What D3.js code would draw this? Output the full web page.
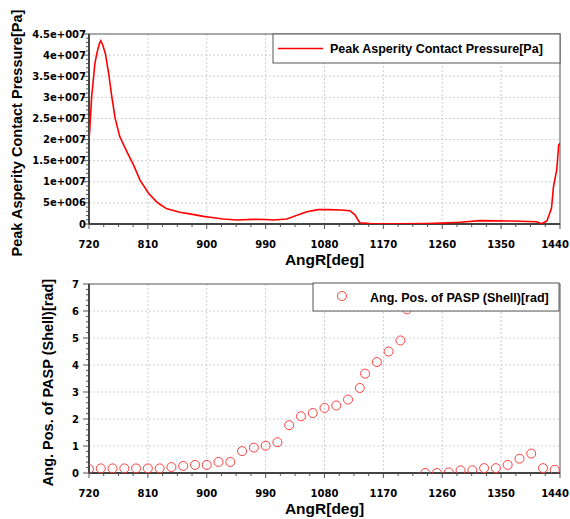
<!DOCTYPE html>
<html>
<head>
<meta charset="utf-8">
<script src="https://cdn.jsdelivr.net/npm/d3@7"></script>
<style>
  body { margin: 0; background: #fff; }
  text { font-family: "DejaVu Sans", Verdana, sans-serif; font-weight: bold; fill: #000; }
  .title { font-family: "Liberation Sans", Arial, sans-serif; }
</style>
</head>
<body>
<script>
// top panel: peak asperity contact pressure vs crank angle
var angTop = [720, 721, 724, 729, 732, 736, 738, 741, 745, 750, 755, 760, 767, 778, 788, 798, 811, 823,
  830, 839, 849, 859, 874, 895, 905, 925, 946, 971, 990, 1002, 1022, 1030, 1038, 1053, 1070, 1086, 1105,
  1119, 1127, 1131, 1134, 1150, 1169, 1200, 1236, 1260, 1287, 1318, 1366, 1404, 1412, 1420, 1427, 1430,
  1435, 1438, 1440];
var pressTop = [20, 22, 30, 38, 40.4, 42.8, 43.4, 42.4, 40.4, 35.7, 30, 25, 20.7, 17.1, 14, 10.4, 7.3, 5.3,
  4.5, 3.6, 3.2, 2.8, 2.4, 1.8, 1.6, 1.2, 0.95, 1.1, 1.05, 0.95, 1.2, 1.6, 2.1, 2.9, 3.4, 3.4, 3.3,
  3.15, 2.1, 1.0, 0.3, 0.1, 0.07, 0.07, 0.1, 0.2, 0.4, 0.8, 0.7, 0.55, 0.05, 0.7, 3.7, 8.8,
  12.8, 18.7, 19.1].map(function(v) { return v * 1e6; });

// bottom panel: angular position of PASP (shell)
var angBot = [720, 738, 756, 774, 792, 810, 828, 846, 864, 882, 900, 918, 936, 954, 972, 990, 1008, 1026,
  1044, 1062, 1071, 1080, 1098, 1116, 1134, 1142, 1160, 1178, 1196, 1206, 1234, 1252, 1270, 1288, 1306,
  1324, 1342, 1360, 1378, 1396, 1414, 1432];
var posBot = [0.15, 0.17, 0.17, 0.17, 0.17, 0.17, 0.17, 0.22, 0.26, 0.3, 0.3, 0.41, 0.41, 0.81, 0.94, 1.01,
  1.14, 1.77, 2.1, 2.22, 6.55, 2.41, 2.5, 2.72, 3.15, 3.68, 4.11, 4.5, 4.91, 6.06, 0.0, 0.0, 0.02, 0.1,
  0.1, 0.18, 0.18, 0.3, 0.53, 0.72, 0.18, 0.12];

var xTicks = [720, 810, 900, 990, 1080, 1170, 1260, 1350, 1440];
var yTicksTop = [0, 5e6, 1e7, 1.5e7, 2e7, 2.5e7, 3e7, 3.5e7, 4e7, 4.5e7];
var yTicksBot = [0, 1, 2, 3, 4, 5, 6, 7];

var svg = d3.select("body").append("svg").attr("width", 570).attr("height", 519);

var left = 89, right = 560;
var axisCol = "#555";

var x = d3.scaleLinear().domain([720, 1440]).range([left, right]);

function expFmt(v) {
  if (v === 0) return "0";
  var e = Math.floor(Math.log10(v) + 1e-9);
  var m = +(v / Math.pow(10, e)).toFixed(2);
  return m + "e+" + String(e).padStart(3, "0");
}

// draw one panel frame with grid, ticks and titles
function panel(top, bottom, y, yTicks, yMinorStep, fmt, labelEnd, yTitle, yTitleX, clipId) {
  var g = svg.append("g");

  g.append("clipPath").attr("id", clipId).append("rect")
    .attr("x", left).attr("y", top).attr("width", right - left).attr("height", bottom - top);

  // grid
  xTicks.slice(1, -1).forEach(function(t) {
    g.append("line").attr("x1", x(t)).attr("x2", x(t)).attr("y1", top).attr("y2", bottom)
      .attr("stroke", "#cfcfcf").attr("stroke-dasharray", "2,2");
  });
  yTicks.slice(1, -1).forEach(function(t) {
    g.append("line").attr("x1", left).attr("x2", right).attr("y1", y(t)).attr("y2", y(t))
      .attr("stroke", "#cfcfcf").attr("stroke-dasharray", "2,2");
  });

  // x minor + major ticks
  for (var t = 720; t <= 1440; t += 22.5) {
    var major = xTicks.indexOf(t) >= 0;
    g.append("line").attr("x1", x(t)).attr("x2", x(t)).attr("y1", bottom).attr("y2", bottom + (major ? 5 : 3))
      .attr("stroke", axisCol);
  }
  xTicks.forEach(function(t, i) {
    var last = i === xTicks.length - 1;
    g.append("text").attr("x", last ? 569 : x(t)).attr("y", bottom + 24)
      .attr("text-anchor", last ? "end" : "middle")
      .style("font-size", "10px").text(t);
  });

  // y minor + major ticks
  var yMax = yTicks[yTicks.length - 1];
  for (var k = 0; k * yMinorStep <= yMax + 1e-9; k++) {
    var v = k * yMinorStep;
    var isMajor = yTicks.some(function(tt) { return Math.abs(tt - v) < yMinorStep / 10; });
    g.append("line").attr("x1", left - (isMajor ? 6 : 3)).attr("x2", left).attr("y1", y(v)).attr("y2", y(v))
      .attr("stroke", axisCol);
  }
  yTicks.forEach(function(t) {
    g.append("text").attr("x", labelEnd).attr("y", y(t)).attr("dy", "0.36em").attr("text-anchor", "end")
      .style("font-size", "10px").text(fmt(t));
  });

  // frame
  g.append("rect").attr("x", left).attr("y", top).attr("width", right - left).attr("height", bottom - top)
    .attr("fill", "none").attr("stroke", axisCol).attr("stroke-width", 1);
  g.append("line").attr("x1", left).attr("x2", left).attr("y1", top).attr("y2", bottom)
    .attr("stroke", "#444").attr("stroke-width", 2);
  g.append("line").attr("x1", left).attr("x2", right).attr("y1", bottom).attr("y2", bottom)
    .attr("stroke", "#444").attr("stroke-width", 2);

  // titles
  g.append("text").attr("class", "title").attr("x", (left + right) / 2).attr("y", bottom + 41)
    .attr("text-anchor", "middle").style("font-size", "15.5px").text("AngR[deg]");
  g.append("text").attr("class", "title")
    .attr("transform", "translate(" + yTitleX + "," + ((top + bottom) / 2 + 4) + ") rotate(-90)")
    .attr("text-anchor", "middle").style("font-size", "14.5px").text(yTitle);

  return g;
}

// ---- top panel ----
var yTop = d3.scaleLinear().domain([0, 4.5e7]).range([224, 34]);
var gTop = panel(34, 224, yTop, yTicksTop, 1e6, expFmt, 86,
  "Peak Asperity Contact Pressure[Pa]", 22, "clipTop");

var line = d3.line().x(function(d) { return x(d[0]); }).y(function(d) { return yTop(d[1]); });
gTop.append("path").datum(d3.zip(angTop, pressTop))
  .attr("clip-path", "url(#clipTop)")
  .attr("d", line).attr("fill", "none").attr("stroke", "#ff0000").attr("stroke-width", 1.6);

// legend top
gTop.append("rect").attr("x", 273).attr("y", 34).attr("width", 287).attr("height", 29)
  .attr("fill", "#fff").attr("stroke", axisCol);
gTop.append("line").attr("x1", 278).attr("x2", 323).attr("y1", 48.5).attr("y2", 48.5)
  .attr("stroke", "#ff0000").attr("stroke-width", 1.6);
gTop.append("text").attr("class", "title").attr("x", 330).attr("y", 48.5).attr("dy", "0.36em")
  .style("font-size", "12.5px").text("Peak Asperity Contact Pressure[Pa]");

// ---- bottom panel ----
var yBot = d3.scaleLinear().domain([0, 7]).range([473, 284]);
var gBot = panel(284, 473, yBot, yTicksBot, 0.2, function(v) { return v; }, 79,
  "Ang. Pos. of PASP (Shell)[rad]", 53, "clipBot");

gBot.append("g").attr("clip-path", "url(#clipBot)")
  .selectAll("circle").data(d3.zip(angBot, posBot)).enter().append("circle")
  .attr("cx", function(d) { return x(d[0]); })
  .attr("cy", function(d) { return yBot(d[1]); })
  .attr("r", 4.5).attr("fill", "none").attr("stroke", "#ff4040").attr("stroke-width", 1);

// legend bottom
gBot.append("rect").attr("x", 313).attr("y", 283).attr("width", 246).attr("height", 28)
  .attr("fill", "#fff").attr("stroke", axisCol);
gBot.append("circle").attr("cx", 342).attr("cy", 296).attr("r", 4.5)
  .attr("fill", "none").attr("stroke", "#ff4040").attr("stroke-width", 1);
gBot.append("text").attr("class", "title").attr("x", 370).attr("y", 297).attr("dy", "0.36em")
  .style("font-size", "12.5px").text("Ang. Pos. of PASP (Shell)[rad]");
</script>
</body>
</html>
